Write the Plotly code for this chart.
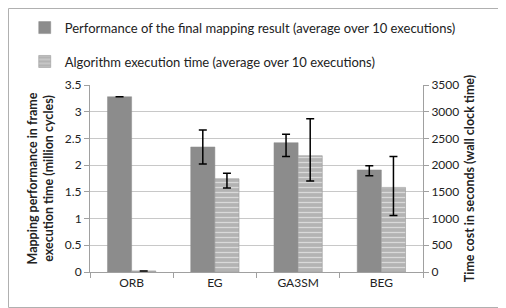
import plotly.graph_objects as go

categories = ["ORB", "EG", "GA3SM", "BEG"]
perf = [3.28, 2.34, 2.42, 1.91]
perf_err_plus = [0, 0.32, 0.16, 0.08]
perf_err_minus = [0, 0.32, 0.26, 0.11]
time_cost = [20, 1745, 2176, 1583]
time_err_plus = [0, 105, 690, 580]
time_err_minus = [0, 175, 475, 525]

font_family = "Lato, 'Open Sans', sans-serif"

fig = go.Figure()
fig.add_trace(go.Bar(
    x=categories, y=perf, name="Performance of the final mapping result (average over 10 executions)",
    marker=dict(color="#8c8c8c", line=dict(color="#8c8c8c", width=0.5)),
    error_y=dict(type="data", symmetric=False, array=perf_err_plus, arrayminus=perf_err_minus,
                 color="black", thickness=1.5, width=4),
    offsetgroup="1", legendgroup="a", yaxis="y",
))
fig.add_trace(go.Bar(
    x=categories, y=time_cost, name="Algorithm execution time (average over 10 executions)",
    marker=dict(color="#b3b3b3", line=dict(color="#999999", width=0.6),
                pattern=dict(shape="-", fgcolor="white", bgcolor="#b3b3b3", size=5, solidity=0.25)),
    error_y=dict(type="data", symmetric=False, array=time_err_plus, arrayminus=time_err_minus,
                 color="black", thickness=1.5, width=4),
    offsetgroup="2", legendgroup="b", yaxis="y2",
))

fig.update_layout(
    width=498, height=300,
    margin=dict(l=82, r=83, t=77, b=36, autoexpand=False),
    plot_bgcolor="white", paper_bgcolor="white",
    barmode="group", bargap=0.42, bargroupgap=0,
    font=dict(family=font_family, size=12, color="#222222"),
    legend=dict(x=-0.196, y=1.387, xanchor="left", yanchor="top", orientation="v",
                font=dict(size=13, color="#222222"), tracegroupgap=14,
                itemwidth=30, bgcolor="rgba(0,0,0,0)"),
    xaxis=dict(showline=True, linecolor="#a0a0a0", linewidth=1, ticks="outside",
               tickson="boundaries", ticklen=5, tickcolor="#a0a0a0", automargin=False,
               tickfont=dict(size=12, color="#222222")),
    yaxis=dict(range=[0, 3.5], dtick=0.5, showgrid=True, gridcolor="#c8c8c8",
               showline=True, linecolor="#a0a0a0", ticks="outside", ticklen=5,
               tickcolor="#a0a0a0", tickfont=dict(size=12, color="#222222"), automargin=False,
               title=dict(text="<b>Mapping performance in frame<br>execution time (million cycles)</b>",
                          font=dict(size=12.5, color="#222222"), standoff=8),
               zeroline=False),
    yaxis2=dict(range=[0, 3500], dtick=500, overlaying="y", side="right", showgrid=False,
                showline=True, linecolor="#a0a0a0", ticks="outside", ticklen=5, automargin=False,
                tickcolor="#a0a0a0", tickfont=dict(size=12, color="#222222"),
                title=dict(text="<b>Time cost in seconds (wall clock time)</b>",
                           font=dict(size=12.5, color="#222222"), standoff=6),
                zeroline=False),
)

fig.add_shape(type="rect", xref="paper", yref="paper",
              x0=-81.5/333, x1=415.5/333, y0=-35.5/187, y1=263.5/187,
              line=dict(color="#b0b0b0", width=1))

fig.write_html("out.html")
